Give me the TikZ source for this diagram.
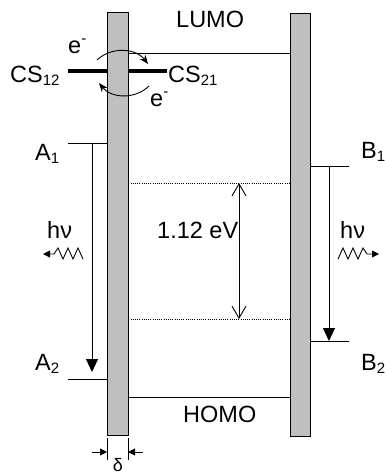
\documentclass[tikz,border=0pt]{standalone}
\usepackage{fontspec}
\setmainfont{Liberation Sans}
\usetikzlibrary{arrows.meta}
\newcommand\lsb[1]{\raisebox{-0.28ex}{\fontsize{15}{15}\selectfont #1}}
\newcommand\lsp[1]{\raisebox{0.8ex}{\fontsize{15}{15}\selectfont #1}}
\tikzset{
  bar/.style={draw, fill=gray!50, line width=0.9pt, inner sep=0pt, minimum width=21pt},
  lvl/.style={line width=0.9pt},
  csline/.style={line width=3.8pt},
  dotl/.style={line width=0.6pt, dash pattern=on 1pt off 1.2pt},
  lbl/.style={font=\fontsize{23.5}{23.5}\selectfont, inner sep=0pt, anchor=base west},
  tri/.style={-{Triangle[length=13pt,width=12pt]}},
  dimarr/.style={line width=0.9pt,-{Triangle[length=7pt,width=7pt]}},
  wavy/.style={line width=0.9pt,-{Triangle[length=7pt,width=7pt]}},
  earr/.style={line width=0.9pt,-{Stealth[length=9pt,width=7pt]}},
}
\begin{document}
\begin{tikzpicture}[x=1pt,y=-1pt]
\useasboundingbox (0,0) rectangle (384,474);
% bars
\node[bar, minimum height=423pt] (L) at (117.5,223.5) {};
\node[bar, minimum width=20pt, minimum height=423pt] (R) at (300,224.5) {};
% LUMO / HOMO
\draw[lvl] (L.east |- 0,53) -- (R.west |- 0,53);
\draw[lvl] (L.east |- 0,397) -- (R.west |- 0,397);
\node[lbl] (lumo) at (176,27) {LUMO};
\node[lbl] (homo) at (183,422) {HOMO};
% dotted gap lines
\draw[dotl] (L.east |- 0,183) coordinate (gt) -- (R.west |- 0,183);
\draw[dotl] (L.east |- 0,319) coordinate (gb) -- (R.west |- 0,319);
\coordinate (ga) at (239,183);
\coordinate (gz) at (239,319);
\draw[lvl, {Straight Barb[length=12pt,width=14pt]}-{Straight Barb[length=12pt,width=14pt]}] (ga) -- (gz);
\node[lbl] (gap) at (157,238) {1.12 eV};
% CS levels
\coordinate (cs1) at (68,71);
\coordinate (cs2) at (167,71);
\draw[csline] (cs1) -- (L.west |- cs1);
\draw[csline] (L.east |- cs2) -- (cs2);
\node[lbl] (cs12) at (10,82) {CS\lsb{12}};
\node[lbl] (cs21) at (168,82) {CS\lsb{21}};
\node[lbl] (e1) at (68,53) {e\lsp{-}};
\node[lbl] (e2) at (150,106) {e\lsp{-}};
\coordinate (ua) at (97,60);
\coordinate (ub) at (148,64);
\coordinate (la) at (149,86);
\coordinate (lb) at (99,83);
\draw[earr] (ua) to[bend left=48] (ub);
\draw[earr] (la) to[bend left=48] (lb);
% A levels
\coordinate (a1) at (68,143);
\coordinate (a2) at (68,379);
\draw[lvl] (a1) -- (L.west |- a1);
\draw[lvl] (a2) -- (L.west |- a2);
\coordinate (at) at (92,143);
\coordinate (ab) at (92,372);
\draw[lvl, tri] (at) -- (ab);
\node[lbl] (A1) at (35,160) {A\lsb{1}};
\node[lbl] (A2) at (35,370) {A\lsb{2}};
% B levels
\coordinate (b1) at (349,166);
\coordinate (b2) at (349,341);
\draw[lvl] (R.east |- b1) -- (b1);
\draw[lvl] (R.east |- b2) -- (b2);
\coordinate (bt) at (329,166);
\coordinate (bb) at (329,341);
\draw[lvl, tri] (bt) -- (bb);
\node[lbl] (B1) at (361,158) {B\lsb{1}};
\node[lbl] (B2) at (361,370) {B\lsb{2}};
% photons
\node[lbl] (hvl) at (47,238) {hν};
\node[lbl] (hvr) at (340,238) {hν};
\coordinate (wl) at (83,259);
\draw[wavy] (wl) -- ++(-5,-11) -- ++(-5,11) -- ++(-5,-11) -- ++(-5,11) -- ++(-5,-11) -- ++(-4,6) -- ++(-11,0);
\coordinate (wr) at (338,259);
\draw[wavy] (wr) -- ++(5,-11) -- ++(5,11) -- ++(5,-11) -- ++(5,11) -- ++(5,-11) -- ++(4,6) -- ++(12,0);
% delta dimension
\coordinate (d1) at (107,438);
\coordinate (d2) at (128,438);
\draw[lvl] (d1) -- ++(0,22);
\draw[lvl] (d2) -- ++(0,22);
\coordinate (dl) at (92,452);
\coordinate (dr) at (143,452);
\draw[dimarr] (dl) -- (d1 |- dl);
\draw[dimarr] (dr) -- (d2 |- dr);
\node[font=\fontsize{18}{18}\selectfont, inner sep=0pt, anchor=base] (delta) at (118,471) {δ};
\end{tikzpicture}
\end{document}
